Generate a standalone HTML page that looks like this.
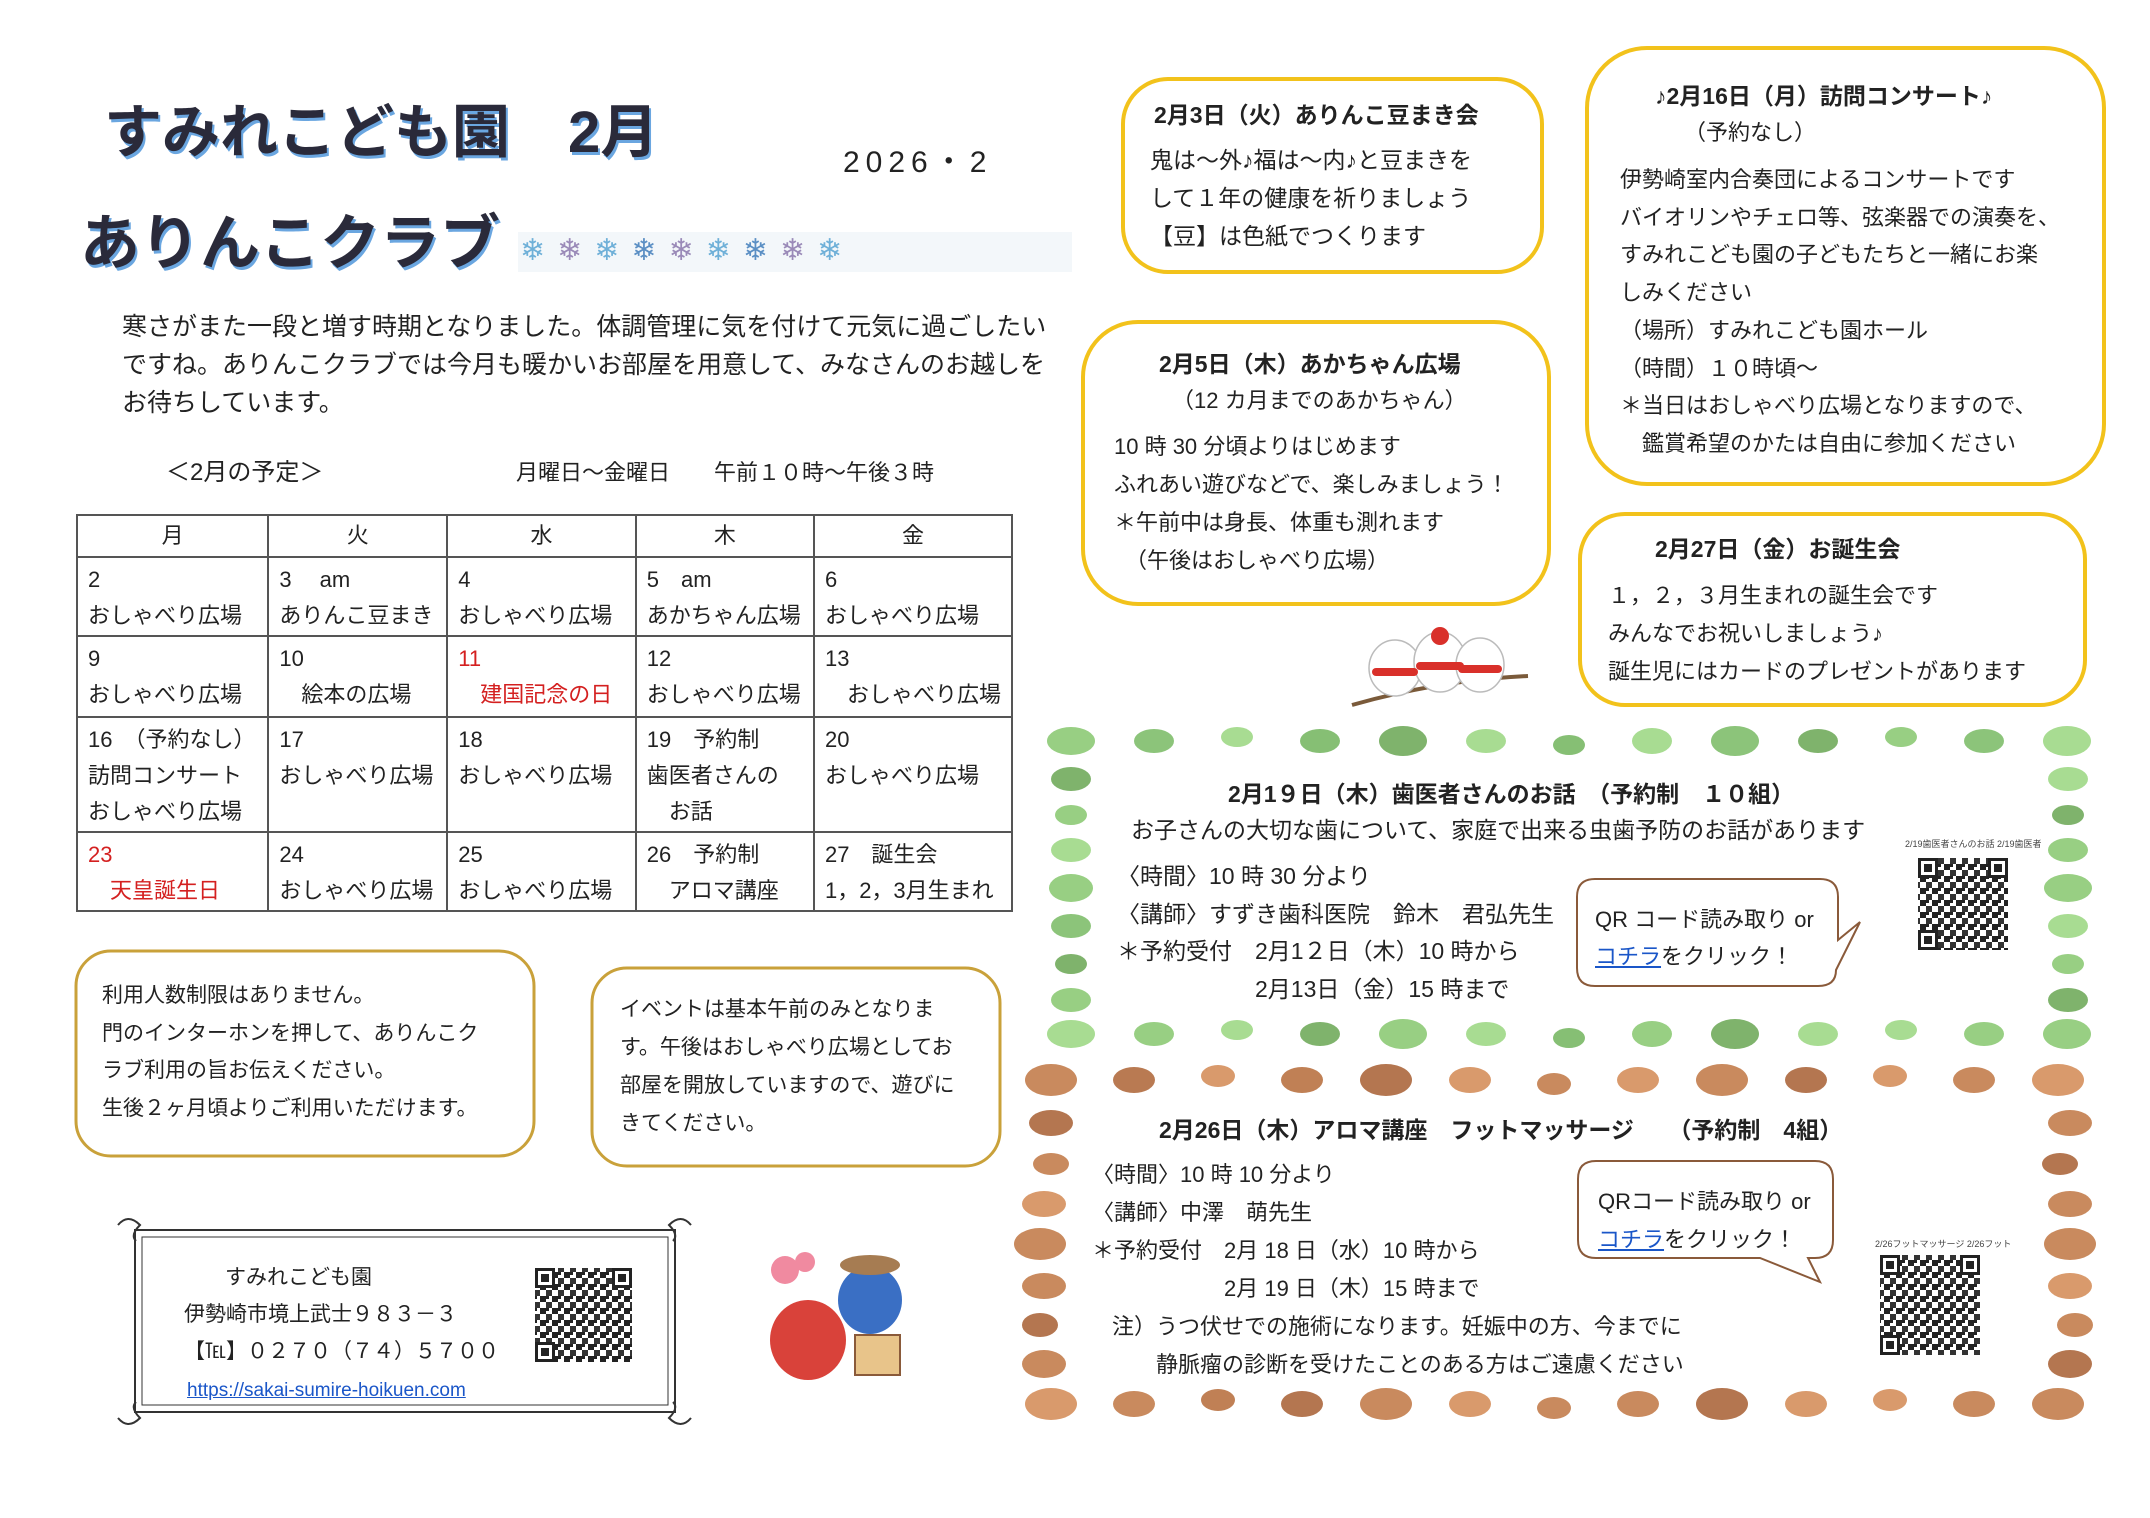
<!DOCTYPE html>
<html><head><meta charset="utf-8">
<style>
html,body{margin:0;padding:0;background:#fff}
body{width:2150px;height:1518px;position:relative;overflow:hidden;font-family:"Liberation Sans","Noto Sans CJK JP",sans-serif;color:#222}
.t{position:absolute;white-space:nowrap;line-height:1}
svg.bg{position:absolute;left:0;top:0}
table.cal{position:absolute;left:76px;top:514px;width:937px;border-collapse:collapse;font-size:22px}
table.cal td{border:2px solid #555;vertical-align:top;padding:4px 10px 0 10px;line-height:36px;white-space:nowrap}
table.cal tr.h td{text-align:center;vertical-align:middle;padding:0}
.red{color:#d42020}
a{color:#1a56c8;text-decoration:underline}
</style></head><body>
<svg class="bg" width="2150" height="1518" viewBox="0 0 2150 1518">
<defs>
<pattern id="qr" width="12" height="12" patternUnits="userSpaceOnUse">
<rect width="12" height="12" fill="#fff"/><rect x="0" y="0" width="6" height="6" fill="#222"/><rect x="6" y="6" width="6" height="6" fill="#333"/><rect x="6" y="0" width="3" height="3" fill="#222"/>
</pattern>
<g id="finder"><rect width="20" height="20" fill="#222"/><rect x="3" y="3" width="14" height="14" fill="#fff"/><rect x="6" y="6" width="8" height="8" fill="#222"/></g>
</defs>
<g fill="none" stroke="#f2c21b" stroke-width="4">
<rect x="1123" y="79" width="419" height="193" rx="45"/>
<rect x="1587" y="48" width="517" height="436" rx="60"/>
<rect x="1083" y="322" width="466" height="282" rx="55"/>
<rect x="1580" y="514" width="505" height="191" rx="45"/>
</g>
<g fill="none" stroke="#c9a13a" stroke-width="3">
<rect x="76" y="951" width="458" height="205" rx="35"/>
<rect x="592" y="968" width="408" height="198" rx="35"/>
</g>
<g fill="none" stroke="#333" stroke-width="2">
<rect x="135" y="1230" width="540" height="182"/>
<rect x="142" y="1237" width="526" height="168" stroke-width="1"/>
<path d="M118 1225 q10 -12 22 0 q-10 10 -4 16 M691 1225 q-10 -12 -22 0 q10 10 4 16 M118 1418 q10 12 22 0 q-10 -10 -4 -16 M691 1418 q-10 12 -22 0 q10 -10 4 -16"/>
</g>
<rect x="518" y="232" width="554" height="40" fill="#f3f7fa"/>
<rect x="535" y="1268" width="97" height="94" fill="url(#qr)"/>
<use href="#finder" x="535" y="1268"/><use href="#finder" x="612" y="1268"/><use href="#finder" x="535" y="1342"/>
<rect x="1918" y="858" width="90" height="92" fill="url(#qr)"/>
<use href="#finder" x="1918" y="858"/><use href="#finder" x="1988" y="858"/><use href="#finder" x="1918" y="930"/>
<rect x="1880" y="1255" width="100" height="100" fill="url(#qr)"/>
<use href="#finder" x="1880" y="1255"/><use href="#finder" x="1960" y="1255"/><use href="#finder" x="1880" y="1335"/>
<g fill="#fff" stroke="#8a5a3a" stroke-width="2">
<path d="M1595 879 H1820 q18 0 18 18 V940 L1860 922 L1836 970 q0 16 -18 16 H1595 q-18 0 -18 -18 V897 q0 -18 18 -18Z"/>
<path d="M1596 1161 H1815 q18 0 18 18 V1240 q0 18 -18 18 H1808 L1820 1282 L1760 1258 H1596 q-18 0 -18 -18 V1179 q0 -18 18 -18Z"/>
</g>
<g fill="#98cf83">
<ellipse cx="1071" cy="741" rx="24" ry="14"/><ellipse cx="1154" cy="741" rx="20" ry="12" fill="#8cc47a"/><ellipse cx="1237" cy="737" rx="16" ry="10" fill="#a8dc92"/><ellipse cx="1320" cy="741" rx="20" ry="12" fill="#86bf74"/><ellipse cx="1403" cy="741" rx="24" ry="15" fill="#7fb36c"/><ellipse cx="1486" cy="741" rx="20" ry="12" fill="#a8dc92"/><ellipse cx="1569" cy="745" rx="16" ry="10" fill="#86bf74"/><ellipse cx="1652" cy="741" rx="20" ry="13" fill="#a8dc92"/><ellipse cx="1735" cy="741" rx="24" ry="15" fill="#8cc47a"/><ellipse cx="1818" cy="741" rx="20" ry="12" fill="#7fb36c"/><ellipse cx="1901" cy="737" rx="16" ry="10" fill="#98cf83"/><ellipse cx="1984" cy="741" rx="20" ry="12" fill="#8cc47a"/><ellipse cx="2067" cy="741" rx="24" ry="15" fill="#a8dc92"/>
<ellipse cx="1071" cy="1034" rx="24" ry="14" fill="#a8dc92"/><ellipse cx="1154" cy="1034" rx="20" ry="12"/><ellipse cx="1237" cy="1030" rx="16" ry="10" fill="#a8dc92"/><ellipse cx="1320" cy="1034" rx="20" ry="12" fill="#7fb36c"/><ellipse cx="1403" cy="1034" rx="24" ry="15" fill="#98cf83"/><ellipse cx="1486" cy="1034" rx="20" ry="12" fill="#a8dc92"/><ellipse cx="1569" cy="1038" rx="16" ry="10" fill="#86bf74"/><ellipse cx="1652" cy="1034" rx="20" ry="13"/><ellipse cx="1735" cy="1034" rx="24" ry="15" fill="#7fb36c"/><ellipse cx="1818" cy="1034" rx="20" ry="12" fill="#a8dc92"/><ellipse cx="1901" cy="1030" rx="16" ry="10" fill="#a8dc92"/><ellipse cx="1984" cy="1034" rx="20" ry="12"/><ellipse cx="2067" cy="1034" rx="24" ry="15" fill="#98cf83"/>
<ellipse cx="1071" cy="779" rx="20" ry="12" fill="#7fb36c"/><ellipse cx="1071" cy="815" rx="16" ry="10"/><ellipse cx="1071" cy="850" rx="20" ry="12" fill="#a8dc92"/><ellipse cx="1071" cy="888" rx="22" ry="14"/><ellipse cx="1071" cy="926" rx="20" ry="12" fill="#8cc47a"/><ellipse cx="1071" cy="964" rx="16" ry="10" fill="#7fb36c"/><ellipse cx="1071" cy="1000" rx="20" ry="12"/>
<ellipse cx="2068" cy="779" rx="20" ry="12" fill="#a8dc92"/><ellipse cx="2068" cy="815" rx="16" ry="10" fill="#7fb36c"/><ellipse cx="2068" cy="850" rx="20" ry="12"/><ellipse cx="2068" cy="888" rx="24" ry="14"/><ellipse cx="2068" cy="926" rx="20" ry="12" fill="#a8dc92"/><ellipse cx="2068" cy="964" rx="16" ry="10"/><ellipse cx="2068" cy="1000" rx="20" ry="12" fill="#7fb36c"/>
</g>
<g fill="#c98a5e">
<ellipse cx="1051" cy="1080" rx="26" ry="16"/><ellipse cx="1134" cy="1080" rx="21" ry="13" fill="#b97a52"/><ellipse cx="1218" cy="1076" rx="17" ry="11" fill="#d99a6c"/><ellipse cx="1302" cy="1080" rx="21" ry="13" fill="#c08055"/><ellipse cx="1386" cy="1080" rx="26" ry="16" fill="#b47650"/><ellipse cx="1470" cy="1080" rx="21" ry="13" fill="#d99a6c"/><ellipse cx="1554" cy="1084" rx="17" ry="11"/><ellipse cx="1638" cy="1080" rx="21" ry="13" fill="#d99a6c"/><ellipse cx="1722" cy="1080" rx="26" ry="16"/><ellipse cx="1806" cy="1080" rx="21" ry="13" fill="#b47650"/><ellipse cx="1890" cy="1076" rx="17" ry="11" fill="#d99a6c"/><ellipse cx="1974" cy="1080" rx="21" ry="13"/><ellipse cx="2058" cy="1080" rx="26" ry="16" fill="#d99a6c"/>
<ellipse cx="1051" cy="1404" rx="26" ry="16" fill="#d99a6c"/><ellipse cx="1134" cy="1404" rx="21" ry="13"/><ellipse cx="1218" cy="1400" rx="17" ry="11" fill="#c08055"/><ellipse cx="1302" cy="1404" rx="21" ry="13" fill="#b47650"/><ellipse cx="1386" cy="1404" rx="26" ry="16"/><ellipse cx="1470" cy="1404" rx="21" ry="13" fill="#d99a6c"/><ellipse cx="1554" cy="1408" rx="17" ry="11"/><ellipse cx="1638" cy="1404" rx="21" ry="13"/><ellipse cx="1722" cy="1404" rx="26" ry="16" fill="#b47650"/><ellipse cx="1806" cy="1404" rx="21" ry="13" fill="#d99a6c"/><ellipse cx="1890" cy="1400" rx="17" ry="11" fill="#d99a6c"/><ellipse cx="1974" cy="1404" rx="21" ry="13"/><ellipse cx="2058" cy="1404" rx="26" ry="16" fill="#c98a5e"/>
<ellipse cx="1051" cy="1123" rx="22" ry="13" fill="#b47650"/><ellipse cx="1051" cy="1164" rx="18" ry="11"/><ellipse cx="1044" cy="1204" rx="22" ry="13" fill="#d99a6c"/><ellipse cx="1040" cy="1244" rx="26" ry="16"/><ellipse cx="1044" cy="1286" rx="22" ry="13"/><ellipse cx="1040" cy="1325" rx="18" ry="12" fill="#b47650"/><ellipse cx="1044" cy="1364" rx="22" ry="14"/>
<ellipse cx="2070" cy="1123" rx="22" ry="13"/><ellipse cx="2060" cy="1164" rx="18" ry="11" fill="#b47650"/><ellipse cx="2070" cy="1204" rx="22" ry="13"/><ellipse cx="2070" cy="1244" rx="26" ry="16"/><ellipse cx="2070" cy="1286" rx="22" ry="13" fill="#d99a6c"/><ellipse cx="2075" cy="1325" rx="18" ry="12"/><ellipse cx="2070" cy="1364" rx="22" ry="14" fill="#b47650"/>
</g>
<path d="M1352 705 Q1440 680 1528 676" stroke="#7a5a3a" stroke-width="4" fill="none"/>
<g stroke="#bbb" stroke-width="1.5">
<ellipse cx="1395" cy="668" rx="26" ry="28" fill="#fff"/><ellipse cx="1440" cy="662" rx="26" ry="30" fill="#fff"/><ellipse cx="1480" cy="665" rx="24" ry="27" fill="#fff"/>
</g>
<g fill="#d9302a"><rect x="1372" y="668" width="46" height="8" rx="4"/><rect x="1416" y="662" width="48" height="8" rx="4"/><rect x="1458" y="665" width="44" height="8" rx="4"/><circle cx="1440" cy="636" r="9"/></g>
<ellipse cx="808" cy="1340" rx="38" ry="40" fill="#d9423a"/><ellipse cx="870" cy="1300" rx="32" ry="34" fill="#3a6fc4"/>
<rect x="855" y="1335" width="45" height="40" fill="#e8c48a" stroke="#8a5a3a" stroke-width="2"/>
<circle cx="785" cy="1270" r="14" fill="#f08aa0"/><circle cx="805" cy="1262" r="10" fill="#f08aa0"/><ellipse cx="870" cy="1265" rx="30" ry="10" fill="#a67c52"/>
</svg>

<div class="t" style="left:104px;top:104px;font-size:58px;font-weight:bold;color:#2a2a3a;text-shadow:2px 3px 0 #6aa6e0">すみれこども園　2月</div>
<div class="t" style="left:843px;top:148px;font-size:30px;letter-spacing:6px">2026・2</div>
<div class="t" style="left:80px;top:214px;font-size:60px;font-weight:bold;color:#2a2a3a;text-shadow:2px 3px 0 #6aa6e0">ありんこクラブ</div>
<div class="t" style="left:520px;top:236px;font-size:30px;letter-spacing:12px;color:#6fb0d8">❄<span style="color:#9a8ab8">❄</span>❄<span style="color:#5b8fc4">❄</span><span style="color:#9a8ab8">❄</span>❄<span style="color:#5b8fc4">❄</span><span style="color:#9a8ab8">❄</span>❄</div>

<div class="t" style="left:122px;top:308px;font-size:25px;line-height:38px">寒さがまた一段と増す時期となりました。体調管理に気を付けて元気に過ごしたい<br>ですね。ありんこクラブでは今月も暖かいお部屋を用意して、みなさんのお越しを<br>お待ちしています。</div>
<div class="t" style="left:166px;top:461px;font-size:24px">＜2月の予定＞</div>
<div class="t" style="left:516px;top:462px;font-size:22px">月曜日～金曜日　　午前１０時～午後３時</div>

<table class="cal">
<colgroup><col style="width:192px"><col style="width:180px"><col style="width:193px"><col style="width:179px"><col style="width:193px"></colgroup>
<tr class="h" style="height:42px"><td>月</td><td>火</td><td>水</td><td>木</td><td>金</td></tr>
<tr style="height:79px"><td>2<br>おしゃべり広場</td><td>3　 am<br>ありんこ豆まき</td><td>4<br>おしゃべり広場</td><td>5　am<br>あかちゃん広場</td><td>6<br>おしゃべり広場</td></tr>
<tr style="height:81px"><td>9<br>おしゃべり広場</td><td>10<br>　絵本の広場</td><td class="red">11<br>　建国記念の日</td><td>12<br>おしゃべり広場</td><td>13<br>　おしゃべり広場</td></tr>
<tr style="height:115px"><td>16　（予約なし）<br>訪問コンサート<br>おしゃべり広場</td><td>17<br>おしゃべり広場</td><td>18<br>おしゃべり広場</td><td>19　予約制<br>歯医者さんの<br>　お話</td><td>20<br>おしゃべり広場</td></tr>
<tr style="height:79px"><td class="red">23<br>　天皇誕生日</td><td>24<br>おしゃべり広場</td><td>25<br>おしゃべり広場</td><td>26　予約制<br>　アロマ講座</td><td>27　誕生会<br>1，2，3月生まれ</td></tr>
</table>

<div class="t" style="left:102px;top:977px;font-size:21px;line-height:37.5px">利用人数制限はありません。<br>門のインターホンを押して、ありんこク<br>ラブ利用の旨お伝えください。<br>生後２ヶ月頃よりご利用いただけます。</div>
<div class="t" style="left:620px;top:991px;font-size:21px;line-height:38px">イベントは基本午前のみとなりま<br>す。午後はおしゃべり広場としてお<br>部屋を開放していますので、遊びに<br>きてください。</div>

<div class="t" style="left:225px;top:1267px;font-size:21px">すみれこども園</div>
<div class="t" style="left:184px;top:1304px;font-size:21px">伊勢崎市境上武士９８３－３</div>
<div class="t" style="left:184px;top:1341px;font-size:21px">【℡】０２７０（７４）５７００</div>
<div class="t" style="left:187px;top:1381px;font-size:19px"><a>https://sakai-sumire-hoikuen.com</a></div>

<div class="t" style="left:1154px;top:104px;font-size:23px;font-weight:bold">2月3日（火）ありんこ豆まき会</div>
<div class="t" style="left:1150px;top:141px;font-size:23px;line-height:38px">鬼は～外♪福は～内♪と豆まきを<br>して１年の健康を祈りましょう<br>【豆】は色紙でつくります</div>

<div class="t" style="left:1655px;top:85px;font-size:23px;font-weight:bold">♪2月16日（月）訪問コンサート♪</div>
<div class="t" style="left:1684px;top:122px;font-size:22px">（予約なし）</div>
<div class="t" style="left:1620px;top:161px;font-size:22px;line-height:37.7px">伊勢崎室内合奏団によるコンサートです<br>バイオリンやチェロ等、弦楽器での演奏を、<br>すみれこども園の子どもたちと一緒にお楽<br>しみください<br>（場所）すみれこども園ホール<br>（時間）１０時頃～<br>＊当日はおしゃべり広場となりますので、<br>　鑑賞希望のかたは自由に参加ください</div>

<div class="t" style="left:1159px;top:353px;font-size:23px;font-weight:bold">2月5日（木）あかちゃん広場</div>
<div class="t" style="left:1172px;top:390px;font-size:22px">（12 カ月までのあかちゃん）</div>
<div class="t" style="left:1114px;top:428px;font-size:22px;line-height:38px">10 時 30 分頃よりはじめます<br>ふれあい遊びなどで、楽しみましょう！<br>＊午前中は身長、体重も測れます<br>　（午後はおしゃべり広場）</div>

<div class="t" style="left:1655px;top:538px;font-size:23px;font-weight:bold">2月27日（金）お誕生会</div>
<div class="t" style="left:1608px;top:577px;font-size:22px;line-height:38px">１，２，３月生まれの誕生会です<br>みんなでお祝いしましょう♪<br>誕生児にはカードのプレゼントがあります</div>

<div class="t" style="left:1228px;top:783px;font-size:23px;font-weight:bold">2月1９日（木）歯医者さんのお話　（予約制　１０組）</div>
<div class="t" style="left:1131px;top:819px;font-size:23px">お子さんの大切な歯について、家庭で出来る虫歯予防のお話があります</div>
<div class="t" style="left:1117px;top:858px;font-size:23px;line-height:37.5px">〈時間〉10 時 30 分より<br>〈講師〉すずき歯科医院　鈴木　君弘先生<br>＊予約受付　2月1２日（木）10 時から<br>　　　　　　2月13日（金）15 時まで</div>
<div class="t" style="left:1595px;top:901px;font-size:22px;line-height:37px">QR コード読み取り or<br><a>コチラ</a>をクリック！</div>
<div class="t" style="left:1905px;top:840px;font-size:9px;color:#444">2/19歯医者さんのお話 2/19歯医者</div>

<div class="t" style="left:1159px;top:1119px;font-size:23px;font-weight:bold">2月26日（木）アロマ講座　フットマッサージ　　（予約制　4組）</div>
<div class="t" style="left:1092px;top:1156px;font-size:22px;line-height:38px">〈時間〉10 時 10 分より<br>〈講師〉中澤　萌先生<br>＊予約受付　2月 18 日（水）10 時から<br>　　　　　　2月 19 日（木）15 時まで</div>
<div class="t" style="left:1112px;top:1308px;font-size:22px;line-height:38px">注）うつ伏せでの施術になります。妊娠中の方、今までに<br>　　静脈瘤の診断を受けたことのある方はご遠慮ください</div>
<div class="t" style="left:1598px;top:1183px;font-size:22px;line-height:38px">QRコード読み取り or<br><a>コチラ</a>をクリック！</div>
<div class="t" style="left:1875px;top:1240px;font-size:9px;color:#444">2/26フットマッサージ 2/26フット</div>
</body></html>
